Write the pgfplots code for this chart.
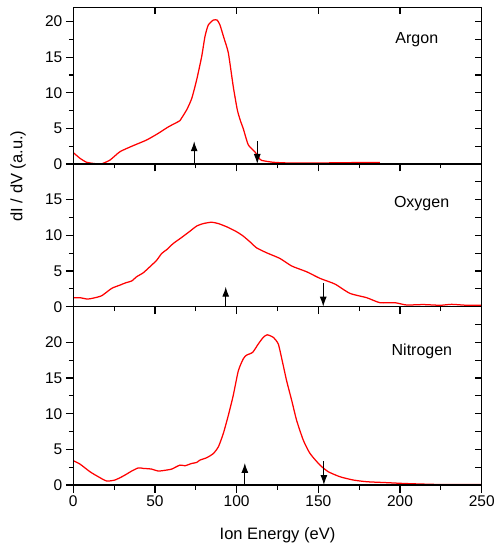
\documentclass[border=0pt]{standalone}
\usepackage{pgfplots}
\pgfplotsset{compat=1.18}
\usepackage{fontspec}
\setmainfont{Liberation Sans}
\usetikzlibrary{arrows.meta}

\pgfplotsset{
 base/.style={scale only axis, width=408.4pt, xmin=0, xmax=250, ymin=0,
   xtick={0,50,...,250},
   axis line style={line width=1.1pt},
   every tick/.style={black, line width=1.1pt},
   /pgf/number format/assume math mode=true,
   ticklabel style={font=\fontsize{15.5}{18}\selectfont},
   clip=true},
 panel/.style={base, minor x tick num=1, minor y tick num=1,
   tick align=outside, xtick pos=left, ytick pos=left,
   major tick length=7.5pt, minor tick length=4.5pt},
 overpanel/.style={base, minor x tick num=0, minor y tick num=1,
   tick align=inside, xtick pos=right, ytick pos=right,
   xticklabels={}, yticklabels={},
   major tick length=7pt, minor tick length=6.5pt},
 curve/.style={red, line width=1.25pt, mark=none, smooth, tension=0.35},
 arr/.style={black, line width=1.1pt, mark=none, -{Latex[length=10pt,width=7pt]}},
}

\begin{document}
\begin{tikzpicture}
\path[use as bounding box] (-73.3pt,-62pt) rectangle (421.7pt,485pt);

% ---------- Argon (top) ----------
\begin{axis}[panel, at={(0pt,321pt)}, anchor=south west, height=156.7pt, ymax=22,
  ytick={0,5,...,20}, xticklabels={}]
\addplot[curve] coordinates {
(0,1.6) (4.1,0.8) (8.2,0.24) (14.3,0.02) (17.3,0.02) (22.5,0.56) (28.6,1.73) (36.7,2.58)
(44.9,3.37) (52,4.3) (58.1,5.2) (64.3,5.95) (65.3,6.1) (69.4,7.6) (72.5,9.2) (75.5,11.8)
(78.6,15.1) (80.6,17.9) (82.6,19.5) (85.7,20.2) (88.1,20.2) (89.8,19.5) (92.2,17.7)
(94.9,15.6) (97.9,10.9) (100.4,7.6) (102.4,6.0) (104,5.0) (107.1,2.7) (111.2,1.7)
(114.3,0.66) (115.3,0.5) (122.4,0.24) (132.6,0.14) (153,0.15) (173.4,0.2) (187.7,0.2)};
\addplot[arr] coordinates {(74,0) (74,3.2)};
\addplot[arr] coordinates {(112.6,3.2) (112.6,0)};
\node[font=\fontsize{16}{19}\selectfont] at (axis cs:210.3,17.4) {Argon};
\end{axis}
\begin{axis}[overpanel, at={(0pt,321pt)}, anchor=south west, height=156.7pt, ymax=22,
  ytick={0,5,...,20}]
\end{axis}

% ---------- Oxygen (middle) ----------
\begin{axis}[panel, at={(0pt,178.3pt)}, anchor=south west, height=142.7pt, ymax=20,
  ytick={0,5,...,15}, xticklabels={}]
\addplot[curve] coordinates {
(0,1.26) (4.1,1.26) (8.6,1.07) (12.2,1.2) (17.4,1.54) (23.5,2.57) (28.6,3.03) (32.2,3.36)
(35.7,3.6) (38.8,4.2) (42.8,4.75) (46.9,5.6) (51,6.5) (54.1,7.46) (57.2,8.0) (61.2,8.86)
(66.3,9.7) (71.4,10.58) (75.5,11.3) (79.6,11.65) (84.7,11.84) (88.8,11.65) (93.9,11.2)
(100,10.5) (104,9.9) (108.1,9.1) (112.2,8.25) (118.4,7.55) (126.5,6.76) (133.7,5.7)
(142.8,4.9) (151,3.97) (160.2,3.17) (169.3,1.87) (179.6,1.26) (187.7,0.56) (196.9,0.56)
(204,0.24) (214.3,0.3) (224.5,0.2) (231.6,0.33) (240.8,0.2) (250,0.2)};
\addplot[arr] coordinates {(93.3,0) (93.3,2.8)};
\addplot[arr] coordinates {(153,3.3) (153,0)};
\node[font=\fontsize{16}{19}\selectfont] at (axis cs:213.2,14.5) {Oxygen};
\end{axis}
\begin{axis}[overpanel, at={(0pt,178.3pt)}, anchor=south west, height=142.7pt, ymax=20,
  ytick={0,5,...,20}]
\end{axis}

% ---------- Nitrogen (bottom) ----------
\begin{axis}[panel, at={(0pt,0pt)}, anchor=south west, height=178.3pt, ymax=25,
  ytick={0,5,...,20}]
\addplot[curve] coordinates {
(0,3.4) (4.1,2.93) (10.2,1.86) (15.3,1.16) (20.4,0.56) (25.5,0.7) (30.6,1.26) (35.7,1.95)
(39.8,2.4) (42.8,2.33) (48,2.23) (52,1.95) (57.2,2.1) (60.2,2.23) (65.3,2.79) (68.4,2.7)
(72.5,3.02) (75.5,3.16) (77.5,3.49) (81.6,3.82) (85.7,4.4) (88.8,5.35) (91.8,7.2)
(94.9,9.76) (97.9,12.55) (101,16.0) (104,17.67) (106,18.2) (109.8,18.6) (113.2,19.76)
(116.3,20.7) (118.7,21.06) (122.4,20.7) (125.5,19.76) (128.1,17.2) (130.6,14.6)
(133.7,11.85) (136.7,9.07) (140.8,6.28) (144.9,4.42) (151,2.79) (156.1,1.86) (163.2,1.16)
(171.3,0.7) (179.6,0.46) (191.8,0.33) (204,0.2) (224.5,0.07) (250,0.07)};
\addplot[arr] coordinates {(105,0) (105,3.1)};
\addplot[arr] coordinates {(153.4,3.3) (153.4,0)};
\node[font=\fontsize{16}{19}\selectfont] at (axis cs:213.4,18.7) {Nitrogen};
\end{axis}
\begin{axis}[overpanel, at={(0pt,0pt)}, anchor=south west, height=178.3pt, ymax=25,
  ytick={0,5,...,25}]
\end{axis}

\node[rotate=90, font=\fontsize{16.5}{20}\selectfont] at (-55.3pt,309pt) {dI / dV (a.u.)};
\node[font=\fontsize{16.5}{20}\selectfont] at (204.2pt,-50pt) {Ion Energy (eV)};
\end{tikzpicture}
\end{document}
